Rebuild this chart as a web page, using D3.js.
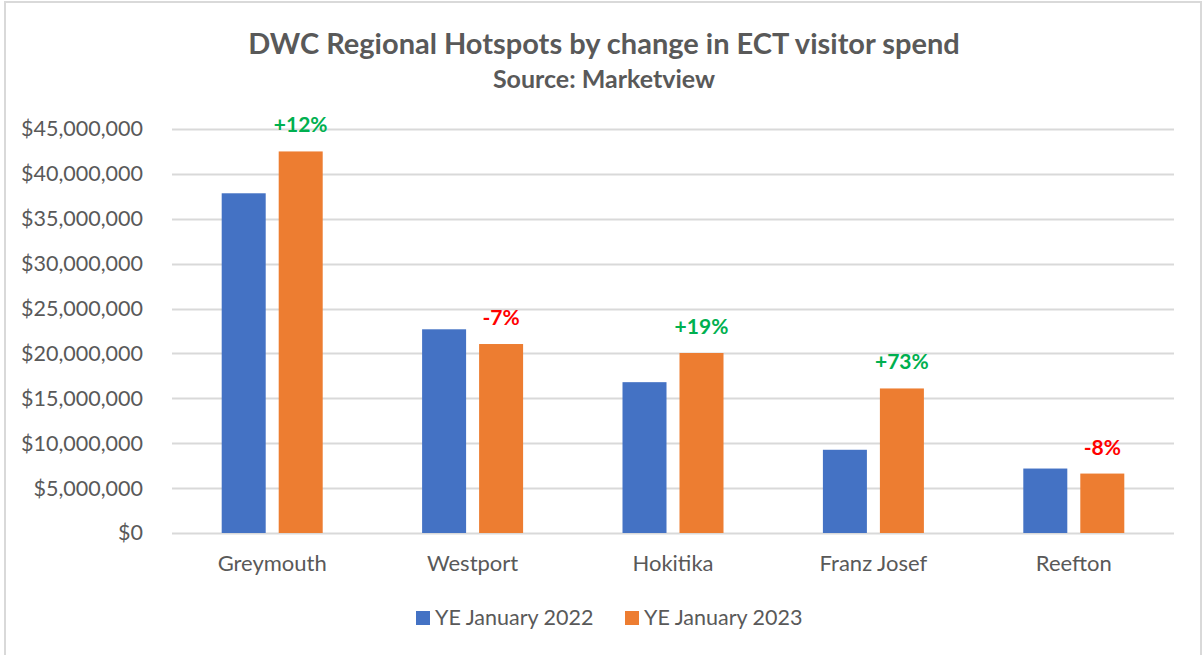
<!DOCTYPE html>
<html>
<head>
<meta charset="utf-8">
<script src="https://cdn.jsdelivr.net/npm/d3@7"></script>
<style>
  body { margin: 0; background: #fff; }
  text { font-family: Lato, "Open Sans", sans-serif; }
</style>
</head>
<body>
<div id="chart"></div>
<script>
// data
var categories = ["Greymouth", "Westport", "Hokitika", "Franz Josef", "Reefton"];
var seriesNames = ["YE January 2022", "YE January 2023"];
var spend2022 = [37840000, 22690000, 16800000, 9270000, 7180000];
var spend2023 = [42500000, 21050000, 20050000, 16100000, 6620000];
var changeLabels = ["+12%", "-7%", "+19%", "+73%", "-8%"];
var yTicks = [0, 5e6, 10e6, 15e6, 20e6, 25e6, 30e6, 35e6, 40e6, 45e6];

var colors = ["#4472C4", "#ED7D31"];

var width = 1203, height = 655;
var margin = {top: 129, right: 29, bottom: 122, left: 172};

var svg = d3.select("#chart")
  .append("svg")
  .attr("width", width)
  .attr("height", height);

// chart area border
svg.append("rect")
  .attr("x", 5).attr("y", 2)
  .attr("width", 1196).attr("height", 660)
  .style("fill", "none")
  .style("stroke", "#d9d9d9")
  .style("stroke-width", 2);

var x = d3.scaleBand()
  .domain(categories)
  .range([margin.left, width - margin.right]);

var xSub = d3.scaleBand()
  .domain(seriesNames)
  .range([x.bandwidth() / 2 - 50.5, x.bandwidth() / 2 + 50.5])
  .paddingInner(0.228);

var y = d3.scaleLinear()
  .domain([0, 45e6])
  .range([height - margin.bottom, margin.top]);

var fmt = d3.format("$,.0f");

// gridlines
svg.append("g")
  .selectAll("line")
  .data(yTicks)
  .enter().append("line")
  .attr("x1", margin.left)
  .attr("x2", width - margin.right)
  .attr("y1", function(d) { return Math.round(y(d)) + 0.5; })
  .attr("y2", function(d) { return Math.round(y(d)) + 0.5; })
  .style("stroke", "#d9d9d9")
  .style("stroke-width", 2);

// y axis labels
var yAxis = svg.append("g")
  .attr("transform", "translate(" + (margin.left - 29) + ",0)")
  .call(d3.axisLeft(y).tickValues(yTicks).tickFormat(fmt).tickSize(0).tickPadding(0));
yAxis.select(".domain").remove();
yAxis.selectAll("text")
  .style("font-size", "21.5px")
  .style("fill", "#595959")
  .style("font-family", "Lato, sans-serif");

// bars
var rows = categories.map(function(c, i) {
  return {cat: c, values: [spend2022[i], spend2023[i]], label: changeLabels[i]};
});

var groups = svg.append("g")
  .selectAll("g")
  .data(rows)
  .enter().append("g")
  .attr("transform", function(d) { return "translate(" + x(d.cat) + ",0)"; });

groups.selectAll("rect")
  .data(function(d) {
    return d.values.map(function(v, j) { return {name: seriesNames[j], v: v, j: j}; });
  })
  .enter().append("rect")
  .attr("x", function(d) { return xSub(d.name); })
  .attr("width", xSub.bandwidth())
  .attr("y", function(d) { return y(d.v); })
  .attr("height", function(d) { return y(0) - y(d.v); })
  .style("fill", function(d) { return colors[d.j]; });

// change labels above the 2023 bar
groups.append("text")
  .attr("x", xSub(seriesNames[1]) + xSub.bandwidth() / 2)
  .attr("y", function(d) { return y(d.values[1]) - 19; })
  .attr("text-anchor", "middle")
  .style("font-size", "21px")
  .style("font-weight", "bold")
  .style("fill", function(d) { return d.label[0] == "-" ? "#FF0000" : "#00B050"; })
  .text(function(d) { return d.label; });

// category labels
svg.append("g")
  .selectAll("text")
  .data(categories)
  .enter().append("text")
  .attr("x", function(d) { return x(d) + x.bandwidth() / 2; })
  .attr("y", 571)
  .attr("text-anchor", "middle")
  .style("font-size", "22px")
  .style("fill", "#595959")
  .text(function(d) { return d; });

// titles
svg.append("text")
  .attr("x", 604).attr("y", 54)
  .attr("text-anchor", "middle")
  .style("font-size", "29px")
  .style("font-weight", "bold")
  .style("fill", "#595959")
  .text("DWC Regional Hotspots by change in ECT visitor spend");

svg.append("text")
  .attr("x", 604).attr("y", 88)
  .attr("text-anchor", "middle")
  .style("font-size", "25px")
  .style("font-weight", "bold")
  .style("fill", "#595959")
  .text("Source: Marketview");

// legend
var legendX = [416, 625];
var legend = svg.append("g")
  .selectAll("g")
  .data(seriesNames)
  .enter().append("g")
  .attr("transform", function(d, i) { return "translate(" + legendX[i] + ",611)"; });
legend.append("rect")
  .attr("width", 14).attr("height", 14)
  .style("fill", function(d, i) { return colors[i]; });
legend.append("text")
  .attr("x", 19).attr("y", 14)
  .style("font-size", "21.5px")
  .style("fill", "#595959")
  .text(function(d) { return d; });
</script>
</body>
</html>
